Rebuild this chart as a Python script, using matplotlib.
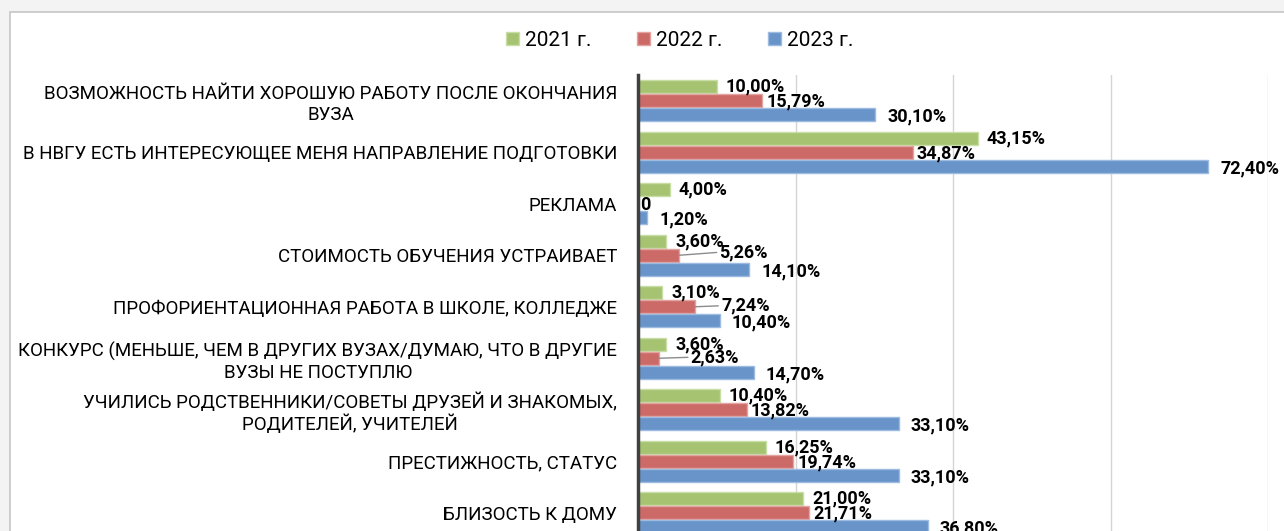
import matplotlib.pyplot as plt
from matplotlib.patches import Patch, Rectangle
import numpy as np

plt.rcParams['font.family'] = ['Roboto', 'DejaVu Sans']

categories = [
    "ВОЗМОЖНОСТЬ НАЙТИ ХОРОШУЮ РАБОТУ ПОСЛЕ ОКОНЧАНИЯ\nВУЗА",
    "В НВГУ ЕСТЬ ИНТЕРЕСУЮЩЕЕ МЕНЯ НАПРАВЛЕНИЕ ПОДГОТОВКИ",
    "РЕКЛАМА",
    "СТОИМОСТЬ ОБУЧЕНИЯ УСТРАИВАЕТ",
    "ПРОФОРИЕНТАЦИОННАЯ РАБОТА В ШКОЛЕ, КОЛЛЕДЖЕ",
    "КОНКУРС (МЕНЬШЕ, ЧЕМ В ДРУГИХ ВУЗАХ/ДУМАЮ, ЧТО В ДРУГИЕ\nВУЗЫ НЕ ПОСТУПЛЮ",
    "УЧИЛИСЬ РОДСТВЕННИКИ/СОВЕТЫ ДРУЗЕЙ И ЗНАКОМЫХ,\nРОДИТЕЛЕЙ, УЧИТЕЛЕЙ",
    "ПРЕСТИЖНОСТЬ, СТАТУС",
    "БЛИЗОСТЬ К ДОМУ",
]
years = ["2021 г.", "2022 г.", "2023 г."]
v2021 = [10.00, 43.15, 4.00, 3.60, 3.10, 3.60, 10.40, 16.25, 21.00]
v2022 = [15.79, 34.87, 0, 5.26, 7.24, 2.63, 13.82, 19.74, 21.71]
v2023 = [30.10, 72.40, 1.20, 14.10, 10.40, 14.70, 33.10, 33.10, 36.80]

colors = ["#A6C372", "#CC6A67", "#6894C9"]
edges = ["#C9DDA6", "#E3A3A1", "#9DBBE0"]

fig = plt.figure(figsize=(12.84, 5.31), dpi=100)
fig.patch.set_facecolor("#F3F3F3")
# white chart frame
fig.add_artist(Rectangle((10 / 1284, -0.1), 1.1, 1 - 12 / 531 + 0.1,
                         transform=fig.transFigure, facecolor="white",
                         edgecolor="#C6C6C6", linewidth=1.2, zorder=0))

ax = fig.add_axes([638 / 1284, -7.5 / 531, 630 / 1284, 463.5 / 531])
ax.set_facecolor("none")

y = np.arange(len(categories))
step = 0.272
bh = 0.25
series = [v2021, v2022, v2023]
dx = [9, 4, 12]   # default label offset right, px
dy = [0, 1, 2]    # default label offset down, px
special = {(3, 1): (40, -3), (4, 1): (26, -1), (5, 1): (32, -1)}

for i, vals in enumerate(series):
    pos = y + (i - 1) * step
    ax.barh(pos, vals, height=bh, color=colors[i], edgecolor=edges[i],
            linewidth=1, label=years[i], zorder=3)
    for j, v in enumerate(vals):
        txt = "0" if v == 0 else f"{v:.2f}%".replace(".", ",")
        if (j, i) in special:
            off = special[(j, i)]
            ax.annotate(txt, xy=(v, pos[j]), xytext=(off[0] * 0.72, -off[1] * 0.72),
                        textcoords="offset points", ha="left", va="center",
                        fontsize=13, fontweight="bold", zorder=5,
                        arrowprops=dict(arrowstyle="-", color="#8C8C8C", lw=1,
                                        shrinkA=0, shrinkB=0,
                                        relpos=(0, 0.5)))
        else:
            ox = dx[i] if v > 0 else 2
            ax.annotate(txt, xy=(v, pos[j]), xytext=(ox * 0.72, -dy[i] * 0.72),
                        textcoords="offset points", ha="left", va="center",
                        fontsize=13, fontweight="bold", zorder=5)

ax.set_xlim(0, 80)
ax.set_ylim(len(categories) - 0.5, -0.5)
ax.set_xticks([20, 40, 60, 80])
ax.xaxis.grid(True, color="#D4D4D4", linewidth=1)
ax.set_axisbelow(True)
ax.tick_params(axis="x", length=0, labelbottom=False)
ax.set_yticks(y)
ax.set_yticklabels(categories, fontsize=13.5)
ax.tick_params(axis="y", length=0, pad=15)
for lab in ax.get_yticklabels():
    lab.set_multialignment("center")
for s in ["top", "right", "bottom"]:
    ax.spines[s].set_visible(False)
ax.spines["left"].set_color("#404040")
ax.spines["left"].set_linewidth(2.5)
ax.spines["left"].set_zorder(4)

handles = [Patch(facecolor=colors[i], edgecolor=edges[i], label=years[i]) for i in range(3)]
fig.legend(handles=handles, loc="center", bbox_to_anchor=(680 / 1284, 1 - 40 / 531),
           ncol=3, frameon=False, fontsize=15, handlelength=0.6, handleheight=0.6,
           handletextpad=0.3, columnspacing=2.2)

fig.savefig("out.png", dpi=100, facecolor=fig.get_facecolor())
